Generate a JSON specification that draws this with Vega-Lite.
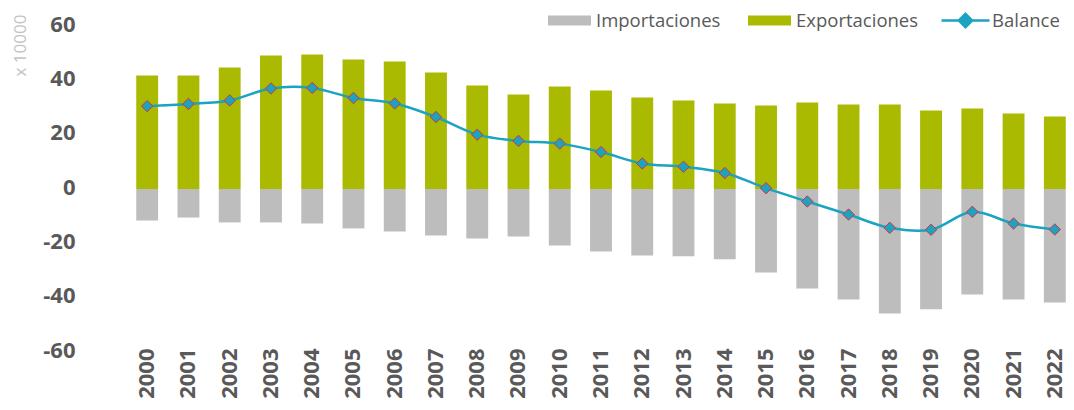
{
  "$schema": "https://vega.github.io/schema/vega-lite/v6.json",
  "width": 946,
  "height": 326,
  "autosize": "none",
  "padding": {"left": 128, "top": 26, "right": 0, "bottom": 58},
  "background": "white",
  "config": {
    "view": {"stroke": null},
    "font": "Open Sans",
    "legend": {"labelFont": "Open Sans", "labelFontSize": 18.5, "labelColor": "#595959", "title": null}
  },
  "data": {
    "values": [
      {"year": "2000", "Importaciones": -11.6, "Exportaciones": 41.8, "Balance": 30.5},
      {"year": "2001", "Importaciones": -10.5, "Exportaciones": 41.8, "Balance": 31.3},
      {"year": "2002", "Importaciones": -12.3, "Exportaciones": 44.7, "Balance": 32.6},
      {"year": "2003", "Importaciones": -12.3, "Exportaciones": 49.1, "Balance": 37.0},
      {"year": "2004", "Importaciones": -12.7, "Exportaciones": 49.5, "Balance": 37.2},
      {"year": "2005", "Importaciones": -14.5, "Exportaciones": 47.7, "Balance": 33.5},
      {"year": "2006", "Importaciones": -15.6, "Exportaciones": 46.9, "Balance": 31.5},
      {"year": "2007", "Importaciones": -17.1, "Exportaciones": 42.9, "Balance": 26.5},
      {"year": "2008", "Importaciones": -18.2, "Exportaciones": 38.1, "Balance": 20.0},
      {"year": "2009", "Importaciones": -17.5, "Exportaciones": 34.8, "Balance": 17.7},
      {"year": "2010", "Importaciones": -20.8, "Exportaciones": 37.7, "Balance": 16.7},
      {"year": "2011", "Importaciones": -23.0, "Exportaciones": 36.3, "Balance": 13.6},
      {"year": "2012", "Importaciones": -24.5, "Exportaciones": 33.7, "Balance": 9.4},
      {"year": "2013", "Importaciones": -24.8, "Exportaciones": 32.6, "Balance": 8.2},
      {"year": "2014", "Importaciones": -25.9, "Exportaciones": 31.5, "Balance": 5.9},
      {"year": "2015", "Importaciones": -30.7, "Exportaciones": 30.7, "Balance": 0.3},
      {"year": "2016", "Importaciones": -36.6, "Exportaciones": 31.8, "Balance": -4.6},
      {"year": "2017", "Importaciones": -40.7, "Exportaciones": 31.1, "Balance": -9.4},
      {"year": "2018", "Importaciones": -45.8, "Exportaciones": 31.1, "Balance": -14.3},
      {"year": "2019", "Importaciones": -44.3, "Exportaciones": 28.9, "Balance": -15.0},
      {"year": "2020", "Importaciones": -38.8, "Exportaciones": 29.6, "Balance": -8.4},
      {"year": "2021", "Importaciones": -40.7, "Exportaciones": 27.8, "Balance": -12.7},
      {"year": "2022", "Importaciones": -41.8, "Exportaciones": 26.7, "Balance": -14.9}
    ]
  },
  "encoding": {
    "x": {
      "field": "year",
      "type": "ordinal",
      "scale": {"paddingInner": 0.47, "paddingOuter": 0.2},
      "axis": {
        "title": null,
        "labelAngle": -90,
        "labelFont": "Open Sans",
        "labelFontWeight": "bold",
        "labelFontSize": 22,
        "labelColor": "#595959",
        "labelPadding": -4,
        "ticks": false,
        "domain": false
      }
    }
  },
  "layer": [
    {
      "transform": [{"fold": ["Importaciones", "Exportaciones"], "as": ["serie", "value"]}],
      "mark": {"type": "bar"},
      "encoding": {
        "y": {
          "field": "value",
          "type": "quantitative",
          "stack": "zero",
          "scale": {"domain": [-60, 60], "nice": false},
          "axis": {
            "values": [-60, -40, -20, 0, 20, 40, 60],
            "labelExpr": "'' + datum.value",
            "grid": false,
            "ticks": false,
            "domain": false,
            "labelFont": "Open Sans",
            "labelFontWeight": "bold",
            "labelFontSize": 22,
            "labelColor": "#595959",
            "labelPadding": 53,
            "labelOffset": -2,
            "title": "x 10000",
            "titleFont": "Open Sans",
            "titleFontWeight": "normal",
            "titleFontSize": 17,
            "titleColor": "#c4c4c4",
            "titleX": -108,
            "titleY": 19,
            "titleAlign": "center",
            "titleBaseline": "middle"
          }
        },
        "fill": {
          "field": "serie",
          "type": "nominal",
          "scale": {"domain": ["Importaciones", "Exportaciones"], "range": ["#BDBDBD", "#A9BA00"]},
          "legend": {
            "orient": "none",
            "direction": "horizontal",
            "legendX": 420,
            "legendY": -27,
            "symbolType": "M-1,-0.23H1V0.23H-1Z",
            "symbolSize": 1849,
            "symbolStrokeWidth": 0,
            "columnPadding": 27,
            "labelOffset": 5
          }
        }
      }
    },
    {
      "mark": {"type": "line", "interpolate": "catmull-rom", "strokeWidth": 2.5},
      "encoding": {
        "y": {"field": "Balance", "type": "quantitative"},
        "stroke": {
          "datum": "Balance",
          "type": "nominal",
          "scale": {"domain": ["Balance"], "range": ["#1BA3C1"]},
          "legend": {
            "orient": "none",
            "direction": "horizontal",
            "legendX": 812,
            "legendY": -31,
            "symbolType": "M-1,0H-0.28M0.28,0H1M0,-0.28L0.28,0L0,0.28L-0.28,0Z",
            "symbolSize": 2304,
            "symbolStrokeWidth": 2.5,
            "symbolFillColor": "#1BA3C1",
            "labelOffset": 1
          }
        }
      }
    },
    {
      "mark": {"type": "point", "shape": "diamond", "filled": true, "size": 130, "fill": "#1BA3C1", "stroke": "#D8323C", "strokeWidth": 1, "opacity": 1},
      "encoding": {
        "y": {"field": "Balance", "type": "quantitative"}
      }
    }
  ]
}
